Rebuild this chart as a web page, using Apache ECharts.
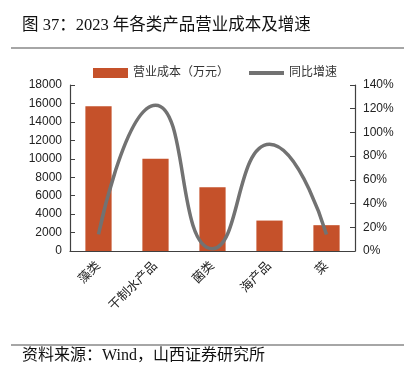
<!DOCTYPE html>
<html><head><meta charset="utf-8">
<script src="https://cdn.jsdelivr.net/npm/echarts@6/dist/echarts.min.js"></script>
<style>html,body{margin:0;padding:0;background:#fff}#c{width:416px;height:377px}</style>
</head><body><div id="c"></div>
<script>
const categories = ['藻类','干制水产品','菌类','海产品','菜'];
const costValues = [15700, 10000, 6900, 3300, 2800];
const growthValues = [14, 123, 2, 90, 14];
const leftTicks = [0, 18000, 2000];
const rightTicks = [0, 140, 20];

const chart = echarts.init(document.getElementById('c'));
const cjk = '"Liberation Serif","Noto Sans CJK SC",serif';
const sans = '"Liberation Sans","Noto Sans CJK SC",sans-serif';
chart.setOption({
  animation: false,
  backgroundColor: '#fff',
  graphic: [
    {type:'text', left:22, top:17, style:{text:'图 37：2023 年各类产品营业成本及增速', font:'16.5px '+cjk, fill:'#111'}},
    {type:'line', shape:{x1:11,y1:48,x2:404,y2:48}, style:{stroke:'#888',lineWidth:1.5}},
    {type:'line', shape:{x1:11,y1:345,x2:404,y2:345}, style:{stroke:'#888',lineWidth:1.5}},
    {type:'text', left:22, top:348, style:{text:'资料来源：Wind，山西证券研究所', font:'16px '+cjk, fill:'#111'}}
  ],
  legend: {
    top: 62, left: 88, itemGap: 20, itemWidth: 35, itemHeight: 10,
    textStyle: {fontSize: 12, color: '#333', fontFamily: sans},
    data: [{name:'营业成本（万元）', icon:'rect'}, {name:'同比增速', icon:'path://M0,0H35V4H0Z'}]
  },
  grid: {left: 70, right: 61, top: 85, bottom: 126},
  xAxis: {
    type: 'category', data: categories,
    axisLine: {lineStyle: {color: '#404040', width: 1.2}},
    axisTick: {inside: true, length: 5, lineStyle: {color: '#404040'}},
    axisLabel: {rotate: 45, fontSize: 12.5, color: '#222', fontFamily: sans, margin: 13}
  },
  yAxis: [
    {type:'value', min: leftTicks[0], max: leftTicks[1], interval: leftTicks[2],
     axisLine:{show:true, lineStyle:{color:'#404040', width:1.2}},
     axisTick:{show:true, inside:true, length:5, lineStyle:{color:'#404040'}},
     splitLine:{show:false},
     axisLabel:{fontSize:12, color:'#222', fontFamily: sans, margin: 8, formatter: v => String(v)}},
    {type:'value', min: rightTicks[0], max: rightTicks[1], interval: rightTicks[2], position:'right',
     axisLine:{show:true, lineStyle:{color:'#404040', width:1.2}},
     axisTick:{show:true, inside:true, length:5, lineStyle:{color:'#404040'}},
     splitLine:{show:false},
     axisLabel:{fontSize:12, color:'#222', fontFamily: sans, margin: 8, formatter:'{value}%'}}
  ],
  series: [
    {name:'营业成本（万元）', type:'bar', data: costValues, barWidth:'46%',
     itemStyle:{color:'#C5512A'}},
    {name:'同比增速', type:'line', yAxisIndex:1, data: growthValues, smooth: 0.55,
     symbol:'none', lineStyle:{color:'#727272', width:3.5}, itemStyle:{color:'#727272'}}
  ]
});
</script></body></html>
